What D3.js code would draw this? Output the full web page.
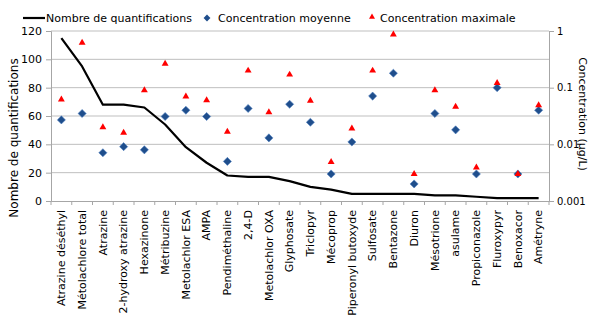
<!DOCTYPE html>
<html>
<head>
<meta charset="utf-8">
<script src="https://cdn.jsdelivr.net/npm/d3@7"></script>
<style>
  body { margin: 0; background: #fff; }
  svg { display: block; font-family: "DejaVu Sans", Verdana, sans-serif; }
</style>
</head>
<body>
<div id="chart"></div>
<script>
const categories = ["Atrazine déséthyl", "Métolachlore total", "Atrazine", "2-hydroxy atrazine", "Hexazinone",
  "Métribuzine", "Metolachlor ESA", "AMPA", "Pendiméthaline", "2,4-D", "Metolachlor OXA", "Glyphosate",
  "Triclopyr", "Mécoprop", "Piperonyl butoxyde", "Sulfosate", "Bentazone", "Diuron", "Mésotrione",
  "asulame", "Propiconazole", "Fluroxypyr", "Benoxacor", "Amétryne"];

const quantifications = [115, 95, 68, 68, 66, 54, 38, 27, 18, 17, 17, 14, 10, 8, 5, 5, 5, 5, 4, 4, 3, 2, 2, 2];

const concMoyenne = [0.027, 0.035, 0.0071, 0.0091, 0.008, 0.031, 0.04, 0.031, 0.005, 0.043, 0.013, 0.051,
  0.0245, 0.003, 0.011, 0.071, 0.18, 0.002, 0.035, 0.018, 0.003, 0.1, 0.003, 0.04];

const concMaximale = [0.062, 0.62, 0.02, 0.016, 0.09, 0.265, 0.07, 0.06, 0.0167, 0.2, 0.037, 0.17,
  0.059, 0.0049, 0.019, 0.2, 0.87, 0.003, 0.09, 0.046, 0.0039, 0.121, 0.003, 0.049];

const leftTicks = [0, 20, 40, 60, 80, 100, 120];
const rightTicks = [0.001, 0.01, 0.1, 1];

const W = 589, H = 330;
const margin = { top: 31, right: 40, bottom: 129, left: 51 };
const width = W - margin.left - margin.right;
const height = H - margin.top - margin.bottom;

const svg = d3.select("#chart").append("svg").attr("width", W).attr("height", H);
const g = svg.append("g").attr("transform", `translate(${margin.left},${margin.top})`);

const x = d3.scaleBand().domain(categories).range([0, width]);
const yL = d3.scaleLinear().domain([0, 120]).range([height, 0]);
const yR = d3.scaleLog().domain([0.001, 1]).range([height, 0]);

// gridlines
g.append("g").selectAll("line").data(leftTicks.slice(1)).join("line")
  .attr("x1", 0).attr("x2", width)
  .attr("y1", d => yL(d)).attr("y2", d => yL(d))
  .attr("stroke", "#bfbfbf").attr("stroke-width", 1);

// left axis
const axL = g.append("g").call(d3.axisLeft(yL).tickValues(leftTicks).tickSize(5).tickPadding(4));
axL.select(".domain").attr("stroke", "#a6a6a6");
axL.selectAll(".tick line").attr("stroke", "#a6a6a6");
axL.selectAll("text").attr("font-size", 11).attr("fill", "#000").style("font-family", "DejaVu Sans");

// right axis
const axR = g.append("g").attr("transform", `translate(${width},0)`)
  .call(d3.axisRight(yR).tickValues(rightTicks).tickFormat(d3.format("")).tickSize(5).tickPadding(3));
axR.select(".domain").attr("stroke", "#a6a6a6");
axR.selectAll(".tick line").attr("stroke", "#a6a6a6");
axR.selectAll("text").attr("font-size", 10).attr("fill", "#000").style("font-family", "DejaVu Sans");

// bottom axis
const axB = g.append("g").attr("transform", `translate(0,${height})`)
  .call(d3.axisBottom(x).tickSize(0).tickPadding(6));
axB.select(".domain").attr("stroke", "#a6a6a6");
axB.selectAll("text")
  .attr("font-size", 11).attr("fill", "#000").style("font-family", "DejaVu Sans")
  .attr("transform", "rotate(-90)")
  .attr("text-anchor", "end")
  .attr("x", -9).attr("y", 0).attr("dy", "0.35em");
// small ticks between categories
g.append("g").selectAll("line").data(categories).join("line")
  .attr("x1", d => x(d)).attr("x2", d => x(d))
  .attr("y1", height).attr("y2", height + 4)
  .attr("stroke", "#a6a6a6");
g.append("line").attr("x1", width).attr("x2", width).attr("y1", height).attr("y2", height + 4).attr("stroke", "#a6a6a6");

const cx = d => x(d) + x.bandwidth() / 2;

// line
g.append("path")
  .datum(categories.map((c, i) => [cx(c), yL(quantifications[i])]))
  .attr("d", d3.line())
  .attr("fill", "none").attr("stroke", "#000").attr("stroke-width", 2.2)
  .attr("stroke-linejoin", "round");

// diamonds
g.append("g").selectAll("path").data(categories).join("path")
  .attr("transform", (d, i) => `translate(${cx(d)},${yR(concMoyenne[i])})`)
  .attr("d", d3.symbol(d3.symbolDiamond2, 42))
  .attr("fill", "#1f4e8c").attr("stroke", "#4f7fc0").attr("stroke-width", 0.6);

// triangles
g.append("g").selectAll("path").data(categories).join("path")
  .attr("transform", (d, i) => `translate(${cx(d)},${yR(concMaximale[i])})`)
  .attr("d", d3.symbol(d3.symbolTriangle2, 34))
  .attr("fill", "#ff0000");

// axis titles
svg.append("text")
  .attr("transform", `translate(18,138) rotate(-90)`)
  .attr("text-anchor", "middle").attr("font-size", 12).text("Nombre de quantifications");
svg.append("text")
  .attr("transform", `translate(579,114) rotate(90)`)
  .attr("text-anchor", "middle").attr("font-size", 11).text("Concentration (µg/L)");

// legend
const leg = svg.append("g").attr("font-size", 11);
leg.append("line").attr("x1", 23).attr("x2", 45).attr("y1", 18).attr("y2", 18).attr("stroke", "#000").attr("stroke-width", 2.2);
leg.append("text").attr("x", 46).attr("y", 22).text("Nombre de quantifications");
leg.append("path").attr("transform", "translate(207,18)").attr("d", d3.symbol(d3.symbolDiamond2, 30)).attr("fill", "#1f4e8c");
leg.append("text").attr("x", 218).attr("y", 22).text("Concentration moyenne");
leg.append("path").attr("transform", "translate(372,17)").attr("d", d3.symbol(d3.symbolTriangle2, 26)).attr("fill", "#ff0000");
leg.append("text").attr("x", 380).attr("y", 22).text("Concentration maximale");
</script>
</body>
</html>
